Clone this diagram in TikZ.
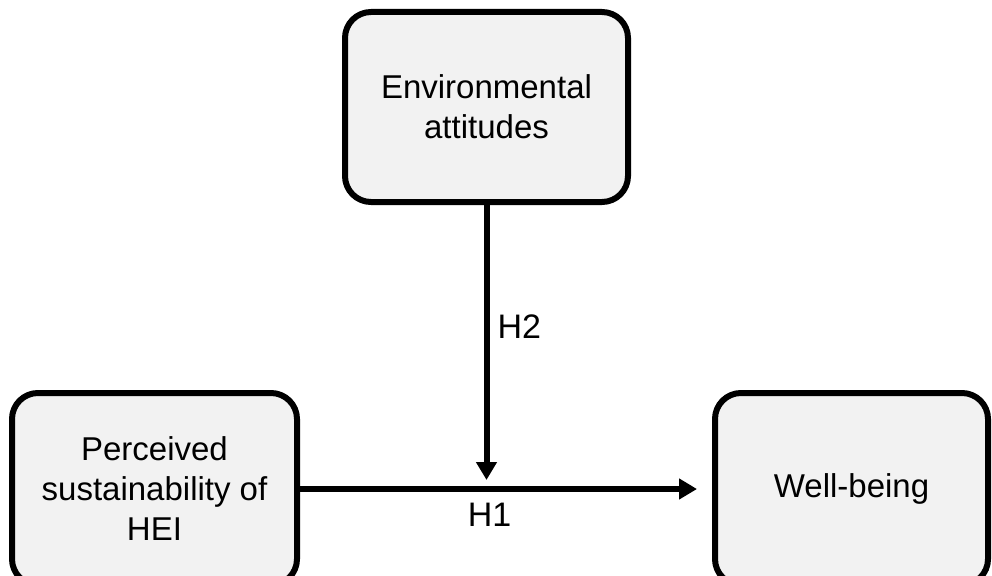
\documentclass[tikz,border=0pt]{standalone}
\usepackage{fontspec}
\setmainfont{Liberation Sans}
\usetikzlibrary{arrows.meta}

\begin{document}
\begin{tikzpicture}[x=1pt, y=1pt, line width=6pt,
    >={Triangle[length=18pt,width=20pt]},
    box/.style={draw, rounded corners=26pt, fill=black!5, align=center,
      font=\fontsize{33}{40}\selectfont, inner sep=0pt},
    hyp/.style={font=\fontsize{34}{40}\selectfont, inner sep=6pt}]

    \useasboundingbox (0,0) rectangle (992,-575);

    % Nodes
    \node[box, minimum width=283pt, minimum height=190pt] (env)  at (486.5,-107) {Environmental\\attitudes};
    \node[box, minimum width=285pt, minimum height=192pt] (perc) at (154.5,-489) {Perceived\\sustainability of\\HEI};
    \node[box, minimum width=273pt, minimum height=192pt] (well) at (851.5,-489) {Well-being};

    % Edges
    \draw[->, shorten >=15pt] (perc) -- node[hyp, below, pos=0.46, inner sep=11pt] {H1} (well);
    \draw[->, shorten >=9pt] (env) -- node[hyp, right, pos=0.43, inner sep=8pt] {H2} (env |- perc);

\end{tikzpicture}
\end{document}
